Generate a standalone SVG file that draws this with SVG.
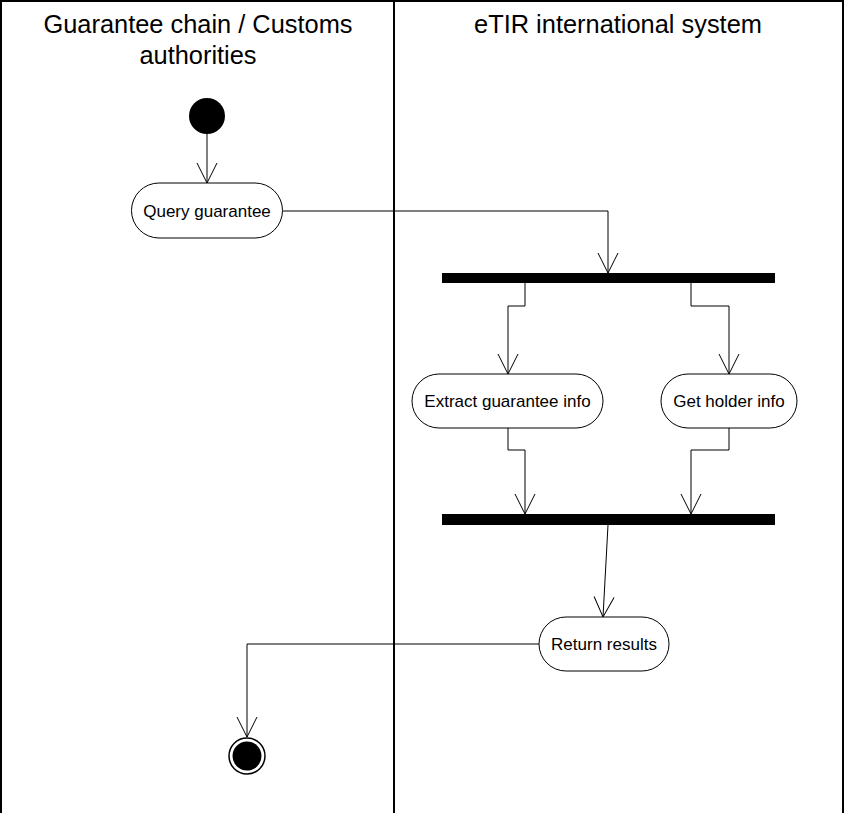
<svg xmlns="http://www.w3.org/2000/svg" width="845" height="813" viewBox="0 0 845 813">
<defs>
<style>
.lane{fill:none;stroke:#000;stroke-width:2}
.hdr{font-family:"Liberation Sans",Arial,sans-serif;font-size:25.4px;fill:#000;text-anchor:middle}
.act rect{fill:#fff;stroke:#000;stroke-width:1}
.lbl{font-family:"Liberation Sans",Arial,sans-serif;font-size:17px;fill:#000;text-anchor:middle}
.conn{fill:none;stroke:#000;stroke-width:1;marker-end:url(#arr)}
.bar{fill:#000}
</style>
<marker id="arr" markerUnits="userSpaceOnUse" markerWidth="30" markerHeight="30" viewBox="-25 -15 30 30" refX="0" refY="0" orient="auto" overflow="visible">
<path d="M-20,-10 L0,0 L-20,10" fill="none" stroke="#000" stroke-width="1"/>
</marker>
</defs>
<g id="lanes">
<path class="lane" d="M1,813 V1 H843 V813 M394,1 V813"/>
<text class="hdr" x="198" y="33">Guarantee chain / Customs</text>
<text class="hdr" x="198" y="64">authorities</text>
<text class="hdr" x="618" y="33">eTIR international system</text>
</g>
<g id="connectors">
<path class="conn" d="M207,134 V183"/>
<path class="conn" d="M283,211 H608 V273"/>
<path class="conn" d="M525,283 V306 H508 V374"/>
<path class="conn" d="M691,283 V306 H729 V374"/>
<path class="conn" d="M508,428 V450 H525 V514"/>
<path class="conn" d="M729,428 V450 H691 V514"/>
<path class="conn" d="M608,525 L603,617"/>
<path class="conn" d="M539,644 H247 V737"/>
</g>
<g id="start"><circle cx="207" cy="116" r="18" fill="#000"/></g>
<g id="query" class="act"><rect x="131.5" y="183" width="151" height="55" rx="27.5"/><text class="lbl" x="207" y="217">Query guarantee</text></g>
<g id="fork"><rect class="bar" x="442" y="273" width="333" height="10"/></g>
<g id="extract" class="act"><rect x="412" y="374" width="191" height="54" rx="27"/><text class="lbl" x="507.5" y="407">Extract guarantee info</text></g>
<g id="holder" class="act"><rect x="661" y="374" width="136" height="54" rx="27"/><text class="lbl" x="729" y="407">Get holder info</text></g>
<g id="join"><rect class="bar" x="442" y="514" width="333" height="11"/></g>
<g id="return" class="act"><rect x="539" y="617" width="130" height="54" rx="27"/><text class="lbl" x="604" y="650">Return results</text></g>
<g id="end"><circle cx="247" cy="756" r="18" fill="#fff" stroke="#000" stroke-width="1.5"/><circle cx="247" cy="756" r="14.5" fill="#000"/></g>
</svg>
